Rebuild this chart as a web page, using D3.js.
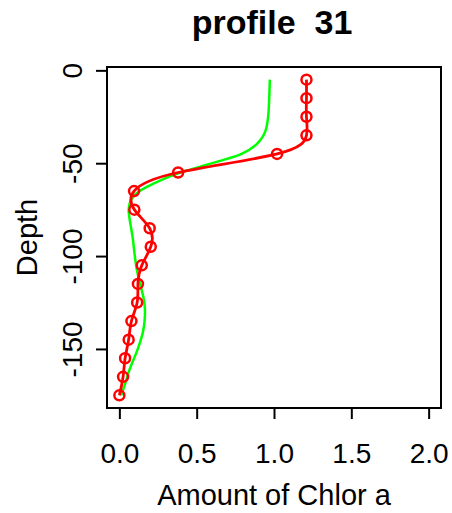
<!DOCTYPE html>
<html>
<head>
<meta charset="utf-8">
<script src="https://cdn.jsdelivr.net/npm/d3@7"></script>
<style>
  html, body { margin: 0; padding: 0; background: #fff; }
  svg { display: block; font-family: "Liberation Sans", Arial, sans-serif; }
</style>
</head>
<body>
<svg id="chart" width="452" height="513"></svg>
<script>
// ---- data ----
const title = "profile  31";
const xLabel = "Amount of Chlor a";
const yLabel = "Depth";
const xTicks = [0, 0.5, 1.0, 1.5, 2.0];
const yTicks = [0, -50, -100, -150];

// observed (red) profile
const obsDepth = [-5, -15, -25, -35, -45, -55, -65, -75, -85, -95, -105, -115, -125, -135, -145, -155, -165, -175];
const obsChl   = [1.21, 1.21, 1.21, 1.21, 1.02, 0.38, 0.095, 0.097, 0.196, 0.203, 0.145, 0.12, 0.115, 0.078, 0.06, 0.037, 0.024, 0.0];

// fitted (green) profile
const fitDepth = [-5, -15, -25, -32, -36, -40, -45, -49, -52, -55.5, -58, -61, -64, -67, -71, -75, -80, -85, -90, -95, -100, -107, -115, -122, -128, -135, -141, -146, -152, -157, -162, -168, -175];
const fitChl   = [0.973, 0.969, 0.962, 0.947, 0.925, 0.885, 0.79, 0.64, 0.52, 0.38, 0.30, 0.22, 0.15, 0.10, 0.069, 0.060, 0.066, 0.076, 0.086, 0.093, 0.10, 0.112, 0.134, 0.155, 0.165, 0.163, 0.152, 0.135, 0.11, 0.085, 0.062, 0.04, 0.012];

// ---- layout ----
const svg = d3.select("#chart");
const plot = { left: 107, right: 441, top: 67, bottom: 408 };

const x = d3.scaleLinear().domain([-0.08, 2.08]).range([plot.left, plot.right]);
const y = d3.scaleLinear().domain([1.8, -181.8]).range([plot.top, plot.bottom]);

const fontSize = 28;

// title
svg.append("text")
  .attr("x", (plot.left + plot.right) / 2 - 2)
  .attr("y", 34)
  .attr("text-anchor", "middle")
  .attr("font-weight", "bold")
  .attr("font-size", 34)
  .style("white-space", "pre")
  .attr("xml:space", "preserve")
  .text(title);

// x axis
const xAxis = d3.axisBottom(x).tickValues(xTicks).tickFormat(d3.format(".1f")).tickSize(11).tickPadding(0);
const gx = svg.append("g").attr("transform", `translate(0,${plot.bottom})`).call(xAxis);
gx.select(".domain").remove();
gx.selectAll(".tick line").attr("stroke", "#000").attr("stroke-width", 2);
gx.selectAll(".tick text").attr("font-size", fontSize).attr("fill", "#000")
  .attr("font-family", "Liberation Sans, Arial, sans-serif")
  .attr("dy", null).attr("y", 55);

// y axis
const yAxis = d3.axisLeft(y).tickValues(yTicks).tickFormat(d => String(d)).tickSize(11).tickPadding(0);
const gy = svg.append("g").attr("transform", `translate(${plot.left},0)`).call(yAxis);
gy.select(".domain").remove();
gy.selectAll(".tick line").attr("stroke", "#000").attr("stroke-width", 2);
gy.selectAll(".tick text")
  .attr("font-size", fontSize).attr("fill", "#000")
  .attr("font-family", "Liberation Sans, Arial, sans-serif")
  .attr("x", null).attr("dy", null)
  .attr("text-anchor", "middle")
  .attr("transform", "translate(-25,0) rotate(-90)");

// axis labels
svg.append("text")
  .attr("x", (plot.left + plot.right) / 2)
  .attr("y", 505)
  .attr("text-anchor", "middle")
  .attr("font-size", 29)
  .text(xLabel);

svg.append("text")
  .attr("transform", `translate(37,${(plot.top + plot.bottom) / 2}) rotate(-90)`)
  .attr("text-anchor", "middle")
  .attr("font-size", 29)
  .text(yLabel);

// clip
svg.append("clipPath").attr("id", "clip").append("rect")
  .attr("x", plot.left).attr("y", plot.top)
  .attr("width", plot.right - plot.left).attr("height", plot.bottom - plot.top);

const g = svg.append("g").attr("clip-path", "url(#clip)");

// green fitted line
const fitData = fitDepth.map((d, i) => ({ depth: d, v: fitChl[i] }));
g.append("path")
  .datum(fitData)
  .attr("fill", "none")
  .attr("stroke", "#00ff00")
  .attr("stroke-width", 2.5)
  .attr("d", d3.line().x(d => x(d.v)).y(d => y(d.depth)).curve(d3.curveCatmullRom.alpha(0.5)));

// red observed line + points
const obsData = obsDepth.map((d, i) => ({ depth: d, v: obsChl[i] }));
g.append("path")
  .datum(obsData)
  .attr("fill", "none")
  .attr("stroke", "#ff0000")
  .attr("stroke-width", 2.8)
  .attr("d", d3.line().x(d => x(d.v)).y(d => y(d.depth)).curve(d3.curveNatural));

svg.append("g").selectAll("circle")
  .data(obsData)
  .join("circle")
  .attr("cx", d => x(d.v))
  .attr("cy", d => y(d.depth))
  .attr("r", 5)
  .attr("fill", "none")
  .attr("stroke", "#ff0000")
  .attr("stroke-width", 2.5);

// box
svg.append("rect")
  .attr("x", plot.left).attr("y", plot.top)
  .attr("width", plot.right - plot.left).attr("height", plot.bottom - plot.top)
  .attr("fill", "none").attr("stroke", "#000").attr("stroke-width", 2);
</script>
</body>
</html>
